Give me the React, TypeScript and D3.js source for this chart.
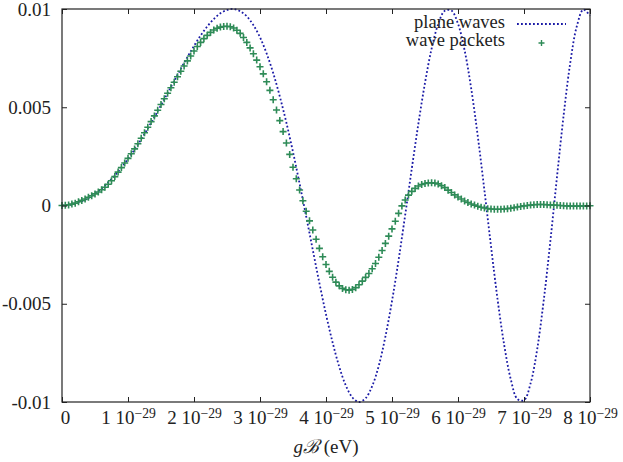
import { useEffect, useRef } from "react";
import * as d3 from "d3";

// gB in units of 1e-29 eV
const xTicks = [0, 1, 2, 3, 4, 5, 6, 7, 8];
const yTicks = [-0.01, -0.005, 0, 0.005, 0.01];
const yTickLabels = ["-0.01", "-0.005", "0", "0.005", "0.01"];

// values are in units of 1e-3
const VALUE_UNIT = 1e-3;

// plane waves, sampled every 0.1 (x 1e-29 eV) from 0 to 8
const planeX = d3.range(81).map((i) => i / 10);
const planeWaves = [
	0, 0.02, 0.1, 0.22, 0.38, 0.6, 0.86, 1.17, 1.53, 1.93,
	2.37, 2.85, 3.37, 3.92, 4.5, 5.1, 5.72, 6.34, 6.96, 7.55,
	8.12, 8.65, 9.11, 9.49, 9.78, 9.95, 10.0, 9.89, 9.63, 9.18,
	8.56, 7.74, 6.74, 5.55, 4.21, 2.72, 1.11, -0.56, -2.26, -3.95,
	-5.54, -6.97, -8.2, -9.16, -9.77, -10.0, -9.81, -9.19, -8.15, -6.67,
	-4.86, -2.77, -0.48, 1.88, 4.17, 6.24, 7.98, 9.23, 9.91, 9.92,
	9.25, 7.9, 5.95, 3.52, 0.78, -2.07, -4.79, -7.1, -8.85, -9.85,
	-9.91, -9.05, -7.31, -4.8, -1.79, 1.46, 4.58, 7.24, 9.12, 9.97,
	9.66,
];

// wave packets, sampled every 0.05 from 0 to 8
const packetX = d3.range(161).map((i) => i / 20);
const wavePackets = [
	0.0, 0.01, 0.03, 0.07, 0.12, 0.19, 0.26, 0.33, 0.42, 0.5,
	0.59, 0.69, 0.8, 0.93, 1.08, 1.26, 1.47, 1.7, 1.93, 2.16,
	2.4, 2.63, 2.88, 3.14, 3.42, 3.7, 3.98, 4.27, 4.56, 4.85,
	5.14, 5.43, 5.71, 5.99, 6.27, 6.55, 6.83, 7.1, 7.36, 7.61,
	7.86, 8.09, 8.3, 8.49, 8.66, 8.81, 8.93, 9.02, 9.08, 9.11,
	9.12, 9.1, 9.03, 8.92, 8.76, 8.55, 8.3, 8.02, 7.72, 7.4,
	7.06, 6.7, 6.3, 5.86, 5.38, 4.86, 4.32, 3.76, 3.18, 2.6,
	1.95, 1.36, 0.79, 0.24, -0.29, -0.78, -1.25, -1.72, -2.18, -2.61,
	-3.0, -3.35, -3.65, -3.9, -4.09, -4.22, -4.29, -4.31, -4.27, -4.18,
	-4.03, -3.85, -3.66, -3.46, -3.22, -2.95, -2.63, -2.29, -1.93, -1.56,
	-1.19, -0.8, -0.4, -0.02, 0.28, 0.53, 0.72, 0.87, 0.99, 1.07,
	1.12, 1.15, 1.16, 1.14, 1.1, 1.01, 0.91, 0.78, 0.66, 0.54,
	0.43, 0.33, 0.23, 0.15, 0.08, 0.02, -0.04, -0.09, -0.13, -0.16,
	-0.18, -0.19, -0.19, -0.19, -0.18, -0.16, -0.14, -0.11, -0.08, -0.05,
	-0.02, 0.0, 0.02, 0.04, 0.05, 0.05, 0.05, 0.04, 0.03, 0.02,
	0.01, 0.0, -0.01, -0.02, -0.03, -0.03, -0.03, -0.03, -0.02, -0.02,
	-0.01,
];

const seriesNames = ["plane waves", "wave packets"];

const WIDTH = 623;
const HEIGHT = 462;
const FONT = "'Liberation Serif', 'Times New Roman', serif";
const FONT_SIZE = 19;
const BLUE = "#1a1aa6";
const GREEN = "#2e8b57";

const App = () => {
	const svgRef = useRef<SVGSVGElement>(null);

	useEffect(() => {
		const margin = {top: 9, right: 33, bottom: 60, left: 62};

		const x = d3
			.scaleLinear()
			.domain([0, 8])
			.range([margin.left, WIDTH - margin.right]);
		const y = d3
			.scaleLinear()
			.domain([-0.01, 0.01])
			.range([HEIGHT - margin.bottom, margin.top]);

		const svg = d3.select(svgRef.current);
		svg.selectAll("*").remove();

		// plane waves: dotted blue line
		const planeLine = d3
			.line<number>()
			.x((_, i) => x(planeX[i]))
			.y((d) => y(d * VALUE_UNIT))
			.curve(d3.curveCatmullRom);

		svg.append("path")
			.datum(planeWaves)
			.attr("d", planeLine)
			.attr("fill", "none")
			.attr("stroke", BLUE)
			.attr("stroke-width", 1.8)
			.attr("stroke-dasharray", "1.8 2.2");

		// wave packets: green plus marks
		const plus = "M-3.5,0H3.5M0,-3.5V3.5";
		svg.append("g")
			.selectAll("path")
			.data(wavePackets)
			.join("path")
			.attr("transform", (d, i) => `translate(${x(packetX[i])},${y(d * VALUE_UNIT)})`)
			.attr("d", plus)
			.attr("fill", "none")
			.attr("stroke", GREEN)
			.attr("stroke-width", 1.6);

		// bottom axis with inward ticks
		const xAxis = svg.append("g")
			.attr("transform", `translate(0,${y(-0.01)})`)
			.call(d3.axisBottom(x).tickValues(xTicks).tickSizeInner(-5).tickSizeOuter(0));
		xAxis.select(".domain").remove();
		xAxis.selectAll(".tick text").each(function (d) {
			const t = d3.select(this as SVGTextElement);
			t.text(null).attr("y", 22).attr("dy", 0);
			if (d === 0) {
				t.attr("x", 3).text("0");
			} else {
				t.append("tspan").text(`${d} 10`);
				t.append("tspan")
					.attr("dy", "-0.42em")
					.attr("font-size", "0.72em")
					.text("\u221229");
			}
		});

		// top mirror ticks
		const xTop = svg.append("g")
			.attr("transform", `translate(0,${y(0.01)})`)
			.call(d3.axisTop(x).tickValues(xTicks).tickSizeInner(-5).tickSizeOuter(0).tickFormat(() => ""));
		xTop.select(".domain").remove();

		// left axis
		const yAxis = svg.append("g")
			.attr("transform", `translate(${x(0)},0)`)
			.call(
				d3.axisLeft(y)
					.tickValues(yTicks)
					.tickSizeInner(-5)
					.tickSizeOuter(0)
					.tickPadding(11)
					.tickFormat((_, i) => yTickLabels[i])
			);
		yAxis.select(".domain").remove();

		// right mirror ticks
		const yRight = svg.append("g")
			.attr("transform", `translate(${x(8)},0)`)
			.call(d3.axisRight(y).tickValues(yTicks).tickSizeInner(-5).tickSizeOuter(0).tickFormat(() => ""));
		yRight.select(".domain").remove();

		svg.selectAll(".tick line").attr("stroke", "#222").attr("stroke-width", 1);
		svg.selectAll("g").attr("font-family", FONT).attr("font-size", FONT_SIZE);
		svg.selectAll(".tick text").attr("fill", "#222");

		// border
		svg.append("rect")
			.attr("x", x(0))
			.attr("y", y(0.01))
			.attr("width", x(8) - x(0))
			.attr("height", y(-0.01) - y(0.01))
			.attr("fill", "none")
			.attr("stroke", "#222")
			.attr("stroke-width", 1.2);

		// x axis title: gB (eV)
		const title = svg.append("text")
			.attr("x", (x(0) + x(8)) / 2)
			.attr("y", 453)
			.attr("text-anchor", "middle")
			.attr("font-family", FONT)
			.attr("font-size", FONT_SIZE)
			.attr("fill", "#222");
		title.append("tspan").attr("font-style", "italic").text("g");
		title.append("tspan").attr("font-style", "italic").text("\u212C");
		title.append("tspan").text(" (eV)");

		// legend
		const legend = svg.append("g").attr("font-family", FONT).attr("font-size", 18.5);
		legend.append("text")
			.attr("x", 505)
			.attr("y", 28)
			.attr("text-anchor", "end")
			.attr("fill", "#222")
			.text(seriesNames[0]);
		legend.append("line")
			.attr("x1", 517)
			.attr("x2", 566)
			.attr("y1", 24)
			.attr("y2", 24)
			.attr("stroke", BLUE)
			.attr("stroke-width", 1.8)
			.attr("stroke-dasharray", "1.8 2.2");
		legend.append("text")
			.attr("x", 505)
			.attr("y", 46)
			.attr("text-anchor", "end")
			.attr("fill", "#222")
			.text(seriesNames[1]);
		legend.append("path")
			.attr("transform", "translate(541.5,43)")
			.attr("d", "M-3,0H3M0,-3V3")
			.attr("fill", "none")
			.attr("stroke", GREEN)
			.attr("stroke-width", 1.4);
	}, []);

	return (
		<svg
			ref={svgRef}
			width={WIDTH}
			height={HEIGHT}
			style={{position: "absolute", left: 0, top: 0, background: "#fff"}}
		/>
	);
};

export default App;
